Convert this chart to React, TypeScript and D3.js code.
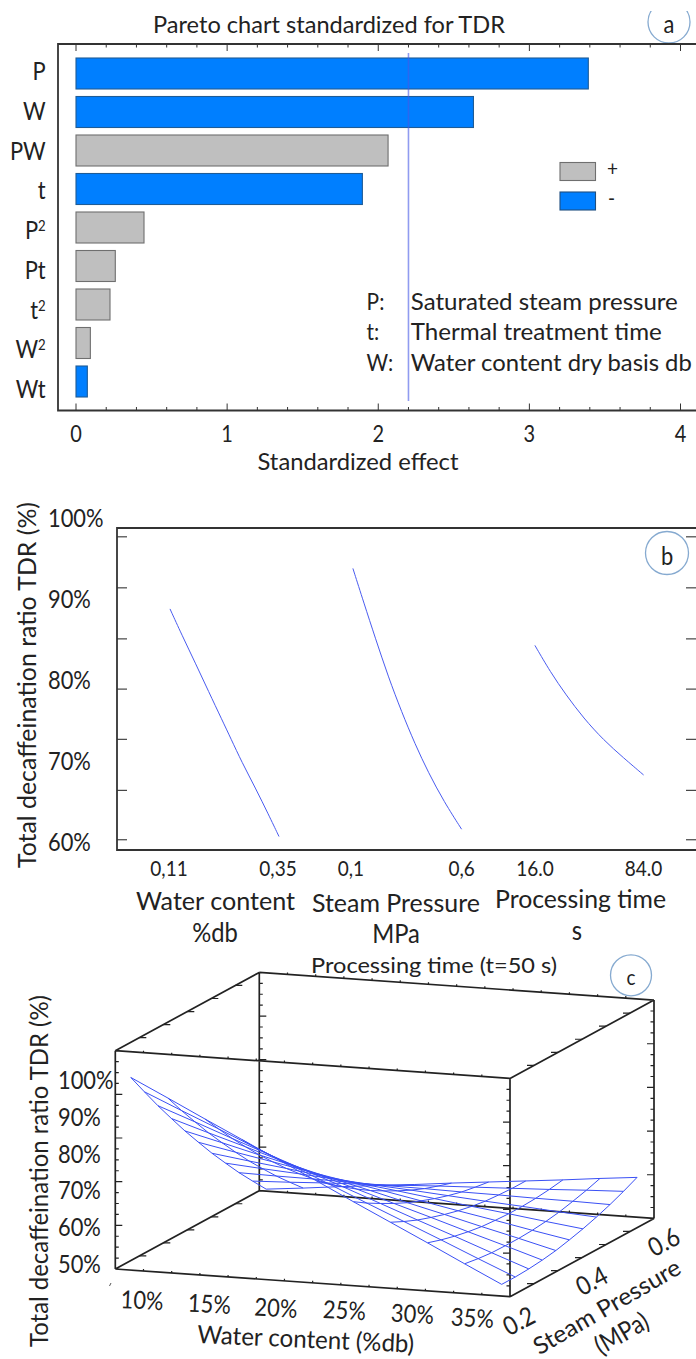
import React from 'react';
import * as d3 from 'd3';

// ---------- Panel a: Pareto ----------
const effectNames = ['P', 'W', 'PW', 't', 'P2', 'Pt', 't2', 'W2', 'Wt'];
const effectValues = [3.39, 2.63, 2.065, 1.895, 0.45, 0.26, 0.225, 0.095, 0.075];
const effectSigns = ['-', '-', '+', '-', '+', '+', '+', '+', '-'];
const paretoTicks = [0, 1, 2, 3, 4];
const paretoRef = 2.2;
const paretoNotes = [
  ['P:', 'Saturated steam pressure', 267],
  ['t:', 'Thermal treatment time', 251],
  ['W:', 'Water content dry basis db', 281],
];

// ---------- Panel b: main effects ----------
const waterX = [0.11, 0.136, 0.166, 0.195, 0.2245, 0.244, 0.268, 0.298, 0.327, 0.35];
const waterY = [88.9, 85.7, 82.2, 78.7, 75.2, 72.9, 70.0, 66.8, 63.5, 60.8];
const steamX = [0.1, 0.151, 0.202, 0.263, 0.324, 0.386, 0.447, 0.519, 0.6];
const steamY = [93.9, 89.6, 85.4, 80.5, 76.2, 72.2, 68.7, 65.1, 61.7];
const timeX = [16, 25.7, 35.4, 46.5, 59, 71.5, 84];
const timeY = [84.4, 81.1, 78.3, 75.4, 72.7, 70.5, 68.4];
const effectYLabels = [60, 70, 80, 90, 100];
const effectYTicks = [60.4, 66.5, 72.8, 79.0, 85.2, 91.5, 97.8];

// ---------- Panel c: surface (rows: water, columns: steam pressure) ----------
const surfaceWater = [0.11, 0.134, 0.158, 0.182, 0.206, 0.23, 0.254, 0.278, 0.302, 0.326, 0.35];
const surfaceSteam = [0.1, 0.15, 0.2, 0.25, 0.3, 0.35, 0.4, 0.45, 0.5, 0.55, 0.6];
const surfaceTDR = [
  [100.9, 95.0, 89.2, 83.7, 78.3, 73.2, 68.2, 63.5, 58.9, 54.6, 50.4],
  [96.0, 90.6, 85.5, 80.5, 75.8, 71.2, 66.8, 62.7, 58.7, 55.0, 51.4],
  [91.0, 86.3, 81.7, 77.4, 73.2, 69.3, 65.5, 62.0, 58.6, 55.5, 52.5],
  [86.1, 81.9, 78.0, 74.2, 70.7, 67.3, 64.1, 61.2, 58.4, 55.9, 53.5],
  [81.2, 77.6, 74.3, 71.1, 68.1, 65.4, 62.8, 60.4, 58.2, 56.3, 54.5],
  [76.3, 73.3, 70.6, 68.0, 65.6, 63.5, 61.5, 59.7, 58.1, 56.8, 55.6],
  [71.3, 68.9, 66.8, 64.8, 63.0, 61.5, 60.1, 58.9, 57.9, 57.2, 56.6],
  [66.4, 64.6, 63.0, 61.7, 60.5, 59.5, 58.7, 58.1, 57.8, 57.6, 57.6],
  [61.5, 60.3, 59.3, 58.5, 57.9, 57.6, 57.4, 57.4, 57.6, 58.0, 58.6],
  [56.5, 55.9, 55.5, 55.4, 55.4, 55.6, 56.0, 56.6, 57.5, 58.5, 59.7],
  [51.6, 51.6, 51.8, 52.2, 52.8, 53.7, 54.7, 55.9, 57.3, 58.9, 60.7],
];
const zLabels = [50, 60, 70, 80, 90, 100];
const waterLabels = ['10%', '15%', '20%', '25%', '30%', '35%'];
const steamLabels = ['0.2', '0.4', '0.6'];

const FONT = 'Lato, sans-serif';
const INK = '#222222';
const AXIS = '#333333';
const BLUE = '#007fff';
const GRAY = '#bfbfbf';
const LINE = '#4a5cf0';
const NARROW = 0.88;

function T({ x, y, s = 20, w, a = 'start', r = 0, fill = INK, children }: any) {
  const props: any = {};
  if (w) {
    props.textLength = w / NARROW;
    props.lengthAdjust = 'spacingAndGlyphs';
  }
  return (
    <text
      x={0}
      y={0}
      transform={`translate(${x},${y}) rotate(${r}) scale(${NARROW},1)`}
      fontFamily={FONT}
      fontSize={s * 1.08}
      textAnchor={a}
      fill={fill}
      {...props}
    >
      {children}
    </text>
  );
}

function Badge({ cx, cy, r, label, clipTop, dy, size }: any) {
  const id = `clip-${label}`;
  return (
    <g>
      {clipTop !== undefined && (
        <clipPath id={id}>
          <rect x={cx - r - 2} y={clipTop} width={2 * r + 4} height={2 * r + 4} />
        </clipPath>
      )}
      <circle
        cx={cx}
        cy={cy}
        r={r}
        fill="#fff"
        stroke="#86aad0"
        strokeWidth={1.3}
        clipPath={clipTop !== undefined ? `url(#${id})` : undefined}
      />
      <T x={cx} y={cy + dy} s={size} a="middle">
        {label}
      </T>
    </g>
  );
}

function PanelA() {
  const x = d3.scaleLinear([0, 4], [76, 680.5]);
  const yBand = d3.scalePoint(effectNames, [73.5, 381.5]);
  const labelY = d3.scalePoint(effectNames, [80, 398]);
  const minor = d3.range(0, 4.01, 0.2);
  const top = 44;
  const bottom = 410.5;
  return (
    <g>
      <T x={153} y={33} s={21} w={352}>
        Pareto chart standardized for TDR
      </T>
      <Badge cx={669} cy={22} r={21} label="a" clipTop={11} dy={11} size={23} />
      <path d={`M696,${top}H58V${bottom}H696`} fill="none" stroke={AXIS} strokeWidth={1.8} />
      {minor.map((t, i) => {
        const isMajor = i % 5 === 0;
        const len = isMajor ? 7 : 3.5;
        return (
          <g key={i} stroke={AXIS} strokeWidth={1}>
            <line x1={x(t)} x2={x(t)} y1={top} y2={top + len} />
            <line x1={x(t)} x2={x(t)} y1={bottom} y2={bottom - len} />
          </g>
        );
      })}
      {effectNames.map((n, i) => (
        <rect
          key={n}
          x={x(0)}
          y={yBand(n)! - 15.5}
          width={x(effectValues[i]) - x(0)}
          height={31}
          fill={effectSigns[i] === '-' ? BLUE : GRAY}
          stroke={effectSigns[i] === '-' ? '#1f5c96' : '#6f6f6f'}
          strokeWidth={1.1}
        />
      ))}
      <line x1={x(paretoRef)} x2={x(paretoRef)} y1={53} y2={401} stroke="#4658e6" strokeOpacity={0.6} strokeWidth={1.6} />
      {effectNames.map((n) => {
        const sup = n.endsWith('2');
        return (
          <T key={n} x={45.7} y={labelY(n)!} s={23} a="end">
            {sup ? n[0] : n}
            {sup && (
              <tspan dy={-8} fontSize={15}>
                2
              </tspan>
            )}
          </T>
        );
      })}
      {paretoTicks.map((t) => (
        <T key={t} x={x(t)} y={442} s={21} a="middle">
          {t}
        </T>
      ))}
      <T x={257.5} y={470} s={21} w={201}>
        Standardized effect
      </T>
      <rect x={560} y={162.5} width={35.5} height={18} fill={GRAY} stroke="#6f6f6f" strokeWidth={1.1} />
      <rect x={560} y={192} width={35.5} height={18} fill={BLUE} stroke="#1f4f80" strokeWidth={1.1} />
      <T x={607} y={176} s={20}>
        +
      </T>
      <T x={608} y={206} s={20}>
        -
      </T>
      {paretoNotes.map((d, i) => (
        <g key={i}>
          <T x={366.6} y={310 + i * 30.4} s={22}>
            {d[0]}
          </T>
          <T x={410.8} y={310 + i * 30.4} s={22} w={d[2]}>
            {d[1]}
          </T>
        </g>
      ))}
    </g>
  );
}

function PanelB() {
  const y = d3.scaleLinear([60, 100], [843, 519]);
  const xW = d3.scaleLinear([0.11, 0.35], [170, 279]);
  const xS = d3.scaleLinear([0.1, 0.6], [352.9, 461.6]);
  const xT = d3.scaleLinear([16, 84], [534.9, 643.6]);
  const series = [
    { xs: waterX, ys: waterY, sx: xW },
    { xs: steamX, ys: steamY, sx: xS },
    { xs: timeX, ys: timeY, sx: xT },
  ];
  const top = 528;
  const bottom = 850;
  const gen = d3.line<number>().curve(d3.curveBasis);
  return (
    <g>
      <path d={`M696,${top}H117V${bottom}H696`} fill="none" stroke={AXIS} strokeWidth={1.8} />
      {effectYTicks.map((t) => (
        <g key={t} stroke={AXIS} strokeWidth={1.1}>
          <line x1={117} x2={127} y1={y(t)} y2={y(t)} />
          <line x1={686} x2={696} y1={y(t)} y2={y(t)} />
        </g>
      ))}
      {series.map((s, i) => (
        <path
          key={i}
          d={gen.x((_, k) => s.sx(s.xs[k])).y((_, k) => y(s.ys[k]))(s.xs) || ''}
          fill="none"
          stroke={LINE}
          strokeWidth={1}
        />
      ))}
      {effectYLabels.map((v) => (
        <T key={v} x={48} y={y(v) + 8} s={23}>
          {v}%
        </T>
      ))}
      <T x={35.5} y={868} s={24} w={366} r={-90}>
        Total decaffeination ratio TDR (%)
      </T>
      <T x={xW(0.11) - 1} y={876} s={20} a="middle">0,11</T>
      <T x={xW(0.35) - 1} y={876} s={20} a="middle">0,35</T>
      <T x={xS(0.1) - 2} y={876} s={20} a="middle">0,1</T>
      <T x={xS(0.6)} y={876} s={20} a="middle">0,6</T>
      <T x={xT(16)} y={876} s={20} a="middle">16.0</T>
      <T x={xT(84)} y={876} s={20} a="middle">84.0</T>
      <T x={136} y={910} s={23} w={159}>Water content</T>
      <T x={215} y={941.5} s={25} a="middle">%db</T>
      <T x={312} y={912} s={23} w={168}>Steam Pressure</T>
      <T x={396} y={943} s={25} a="middle">MPa</T>
      <T x={495} y={908} s={23} w={171}>Processing time</T>
      <T x={577} y={940} s={25} a="middle">s</T>
      <Badge cx={667} cy={553} r={21.5} label="b" dy={12} size={23} />
    </g>
  );
}

function PanelC() {
  const fw = d3.scaleLinear([0.1023, 0.3577], [0, 1]);
  const fp = d3.scaleLinear([0.0867, 0.6186], [0, 1]);
  const fz = d3.scaleLinear([49, 108.5], [0, 1]);
  const O = [115.3, 1269];
  const U = [394.7, 27.7];
  const V = [144, -78.3];
  const W = [0, -218.3];
  const proj = (u: number, v: number, w: number): [number, number] => [
    O[0] + u * U[0] + v * V[0] + w * W[0],
    O[1] + u * U[1] + v * V[1] + w * W[1],
  ];
  const seg = (a: [number, number], b: [number, number]) => `M${a[0]},${a[1]}L${b[0]},${b[1]}`;
  const edges = [
    [[0, 0, 0], [1, 0, 0]],
    [[0, 0, 1], [1, 0, 1]],
    [[0, 1, 0], [1, 1, 0]],
    [[0, 1, 1], [1, 1, 1]],
    [[0, 0, 0], [0, 1, 0]],
    [[0, 0, 1], [0, 1, 1]],
    [[1, 0, 0], [1, 1, 0]],
    [[1, 0, 1], [1, 1, 1]],
    [[0, 0, 0], [0, 0, 1]],
    [[1, 0, 0], [1, 0, 1]],
    [[0, 1, 0], [0, 1, 1]],
    [[1, 1, 0], [1, 1, 1]],
  ];
  let ticks = '';
  [[0, 0, 1], [0, 1, 1], [1, 0, -1], [1, 1, -1]].forEach(([u, v, dir]) => {
    d3.range(1, 20).forEach((i) => {
      const p = proj(u, v, i / 20);
      const len = i % 4 === 0 ? 7 : 3.5;
      ticks += `M${p[0]},${p[1]}h${dir * len}`;
    });
  });
  [[0, 0, 1], [0, 1, 1], [1, 0, -1], [1, 1, -1]].forEach(([u, w, dir]) => {
    d3.range(1, 6).forEach((i) => {
      const p = proj(u, i / 6, w);
      ticks += `M${p[0]},${p[1]}h${dir * 7}`;
    });
  });
  [[0, 0], [0, 1], [1, 0], [1, 1]].forEach(([v, w]) => {
    d3.range(1, 14).forEach((i) => {
      const p = proj(i / 14, v, w);
      ticks += `M${p[0]},${p[1]}v-2`;
    });
  });
  const nodes = surfaceWater.map((wv, i) =>
    surfaceSteam.map((pv, j) => proj(fw(wv), fp(pv), fz(surfaceTDR[i][j])))
  );
  const line = d3.line<[number, number]>();
  const zBase = d3.scaleLinear([50, 100], [1272.7, 1089.3]);
  const wLabelX = [141.7, 209, 275.5, 344, 412, 472];
  const wLabelY = [1309, 1312.7, 1316.7, 1319, 1322.7, 1326.7];
  const sLabelPos = [[523, 1329], [596, 1289], [668, 1250]];
  return (
    <g>
      <T x={311} y={973} s={20} w={246}>Processing time (t=50 s)</T>
      <Badge cx={631} cy={975.3} r={20.5} label="c" dy={10} size={20} />
      <path d={edges.map((e) => seg(proj(e[0][0], e[0][1], e[0][2]), proj(e[1][0], e[1][1], e[1][2]))).join('')} fill="none" stroke="#222" strokeWidth={1.7} />
      <path d={ticks} fill="none" stroke="#222" strokeWidth={1.2} />
      <path d="M111,1283l-1.5,3" fill="none" stroke="#555" strokeWidth={1} />
      <g fill="none" stroke="#3a50f5" strokeWidth={1}>
        {nodes.map((row, i) => <path key={`r${i}`} d={line(row) || ''} />)}
        {surfaceSteam.map((_, j) => <path key={`c${j}`} d={line(nodes.map((row) => row[j])) || ''} />)}
      </g>
      {zLabels.map((v) => (
        <T key={v} x={58} y={zBase(v)} s={23}>{v}%</T>
      ))}
      <T x={48} y={1347} s={23} w={352} r={-90}>Total decaffeination ratio TDR (%)</T>
      {waterLabels.map((l, i) => (
        <T key={l} x={wLabelX[i]} y={wLabelY[i]} s={23} a="middle" r={3}>{l}</T>
      ))}
      <T x={197} y={1343} s={23} w={217} r={2.5}>Water content (%db)</T>
      {steamLabels.map((l, i) => (
        <T key={l} x={sLabelPos[i][0]} y={sLabelPos[i][1]} s={24} a="middle" r={-28}>{l}</T>
      ))}
      <T x={611} y={1314} s={22} w={166} a="middle" r={-30}>Steam Pressure</T>
      <T x={626} y={1341} s={24} a="middle" r={-30}>(MPa)</T>
    </g>
  );
}

export default function App() {
  return (
    <svg
      width={696}
      height={1359}
      viewBox="0 0 696 1359"
      style={{ position: 'absolute', left: 0, top: 0, display: 'block', background: '#fff' }}
    >
      <PanelA />
      <PanelB />
      <PanelC />
    </svg>
  );
}
